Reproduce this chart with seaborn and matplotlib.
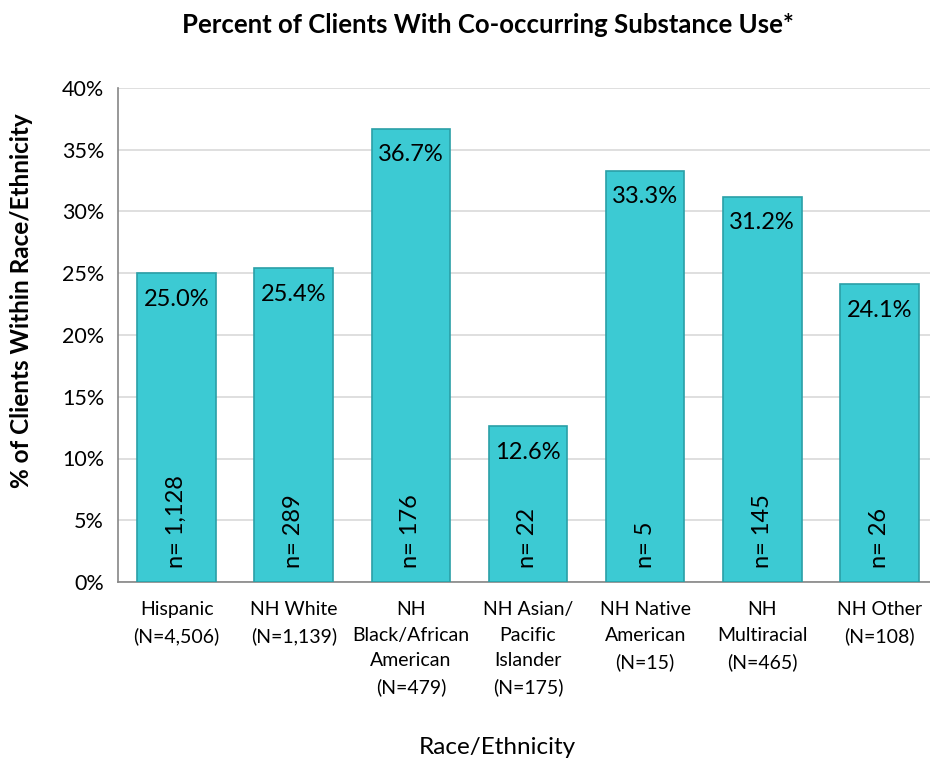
import numpy as np
import pandas as pd
import matplotlib
matplotlib.use("Agg")
import matplotlib.pyplot as plt
import seaborn as sns
from matplotlib.ticker import PercentFormatter, FixedLocator

groups = ["Hispanic\n(N=4,506)", "NH White\n(N=1,139)", "NH\nBlack/African\nAmerican\n(N=479)",
          "NH Asian/\nPacific\nIslander\n(N=175)", "NH Native\nAmerican\n(N=15)",
          "NH\nMultiracial\n(N=465)", "NH Other\n(N=108)"]
pct = [25.0, 25.4, 36.7, 12.6, 33.3, 31.2, 24.1]
n_counts = ["1,128", "289", "176", "22", "5", "145", "26"]

df = pd.DataFrame({"group": groups, "pct": pct, "n": n_counts})

sns.set_style("white")
plt.rcParams['font.family'] = ['Lato', 'DejaVu Sans']
plt.rcParams['text.color'] = 'black'
plt.rcParams['xtick.color'] = 'black'
plt.rcParams['ytick.color'] = 'black'

fig = plt.figure(figsize=(9.3, 7.6), dpi=100)
ax = fig.add_axes([118/930, 178/760, 820/930, 494/760])

sns.barplot(data=df, x="group", y="pct", color="#3CCAD3", width=0.67,
            edgecolor="#2A9FA7", linewidth=1.2, saturation=1, ax=ax, zorder=3)

ax.set_ylim(0, 40)
ax.set_xlim(-0.5, len(groups) - 0.5)
ax.yaxis.set_major_locator(FixedLocator(np.arange(0, 41, 5)))
ax.yaxis.set_major_formatter(PercentFormatter(decimals=0))
ax.grid(axis="y", color="#D9D9D9", linewidth=1.2, zorder=0)
ax.set_axisbelow(True)

for s in ["top", "right"]:
    ax.spines[s].set_visible(False)
for s in ["left", "bottom"]:
    ax.spines[s].set_color("#868686")
    ax.spines[s].set_linewidth(1.2)

ax.tick_params(axis="y", length=6, color="#868686", labelcolor="black", width=1.2,
               labelsize=15.5, pad=4)
ax.tick_params(axis="x", which="major", length=0, labelcolor="black", labelsize=14, pad=14)
ax.set_xticks(np.arange(-0.5, len(groups)), minor=True)
ax.tick_params(axis="x", which="minor", length=6, color="#868686", width=1.2)
for lab in ax.get_xticklabels():
    lab.set_linespacing(1.6)
    lab.set_va("top")

ax.set_xlabel("")
ax.set_ylabel("")

for i, (v, n) in enumerate(zip(pct, n_counts)):
    ax.annotate(f"{v:.1f}%", (i, v), xytext=(0, -11), textcoords="offset points",
                ha="center", va="top", fontsize=17, color="black", zorder=5)
    ax.text(i, 1.1, f"n= {n}", rotation=90, ha="center", va="bottom",
            fontsize=17, color="black", zorder=5)

fig.text(488/930, 1 - 25/760, "Percent of Clients With Co-occurring Substance Use*",
         ha="center", va="center", fontsize=18.5, fontweight="bold")
fig.text(22/930, 1 - 301/760, "% of Clients Within Race/Ethnicity", rotation=90,
         ha="center", va="center", fontsize=17.5, fontweight="bold")
fig.text(497/930, 1 - 747/760, "Race/Ethnicity", ha="center", va="center", fontsize=17.5)

fig.savefig("out.png", dpi=100)
